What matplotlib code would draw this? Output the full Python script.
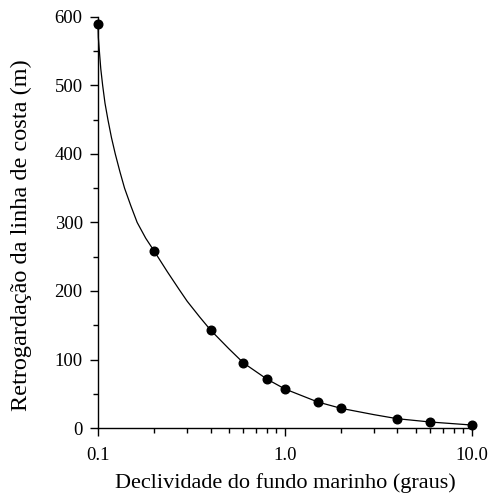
import numpy as np
import matplotlib.pyplot as plt
from matplotlib.ticker import FixedLocator, NullFormatter

# Pontos medidos (declividade em graus, retrogradação em m)
declividade = [0.1, 0.2, 0.4, 0.6, 0.8, 1.0, 1.5, 2.0, 4.0, 6.0, 10.0]
retrogradacao = [589, 258, 143, 95, 71.5, 57, 38, 28.7, 13.6, 8.8, 4.4]

# Curva ajustada
curva_x = [0.1, 0.1004, 0.1017, 0.1035, 0.1059, 0.109, 0.113, 0.118, 0.1237,
           0.131, 0.1387, 0.15, 0.162, 0.18, 0.2, 0.235, 0.272, 0.3, 0.35,
           0.4, 0.5, 0.6, 0.8, 1.0, 1.5, 2.0, 3.0, 4.0, 6.0, 10.0]
curva_y = [589, 570, 550, 524, 500, 474, 450, 424, 400,
           374, 350, 324, 300, 277, 258, 228, 202, 185, 162,
           143, 116, 95, 71.5, 57, 38, 28.7, 19.5, 13.6, 8.8, 4.4]

x_ticks = [0.1, 1.0, 10.0]
x_tick_labels = ["0.1", "1.0", "10.0"]
y_ticks = [0, 100, 200, 300, 400, 500, 600]

plt.rcParams["font.family"] = ["Liberation Serif", "DejaVu Serif"]

fig = plt.figure(figsize=(4.9, 4.96), dpi=100)
ax = fig.add_axes([0.2, 0.137, 0.763, 0.829])

ax.plot(curva_x, curva_y, color="black", linewidth=0.9, clip_on=False)
ax.plot(declividade, retrogradacao, linestyle="none", marker="o",
        markersize=6.2, color="black", clip_on=False, zorder=3)

ax.set_xscale("log")
ax.set_xlim(0.1, 10.0)
ax.set_ylim(0, 600)

ax.xaxis.set_major_locator(FixedLocator(x_ticks))
ax.set_xticklabels(x_tick_labels)
ax.xaxis.set_minor_locator(FixedLocator(
    [m * d for d in (0.1, 1.0) for m in range(2, 10)]))
ax.xaxis.set_minor_formatter(NullFormatter())
ax.set_yticks(y_ticks)
ax.yaxis.set_minor_locator(FixedLocator(np.arange(50, 600, 100)))

ax.tick_params(axis="both", which="major", direction="out", length=6,
               width=1, labelsize=13.5, color="black")
ax.tick_params(axis="both", which="minor", direction="out", length=3.5,
               width=1, color="black")
ax.tick_params(axis="x", which="major", pad=8)
ax.tick_params(axis="y", which="major", pad=5)

for lado in ("top", "right"):
    ax.spines[lado].set_visible(False)
for lado in ("left", "bottom"):
    ax.spines[lado].set_linewidth(1)

ax.set_xlabel("Declividade do fundo marinho (graus)", fontsize=16, labelpad=6)
ax.set_ylabel("Retrogardação da linha de costa (m)", fontsize=17.5)
ax.yaxis.set_label_coords(-0.176, 0.47)

fig.savefig("out.png", dpi=100)
plt.close()
